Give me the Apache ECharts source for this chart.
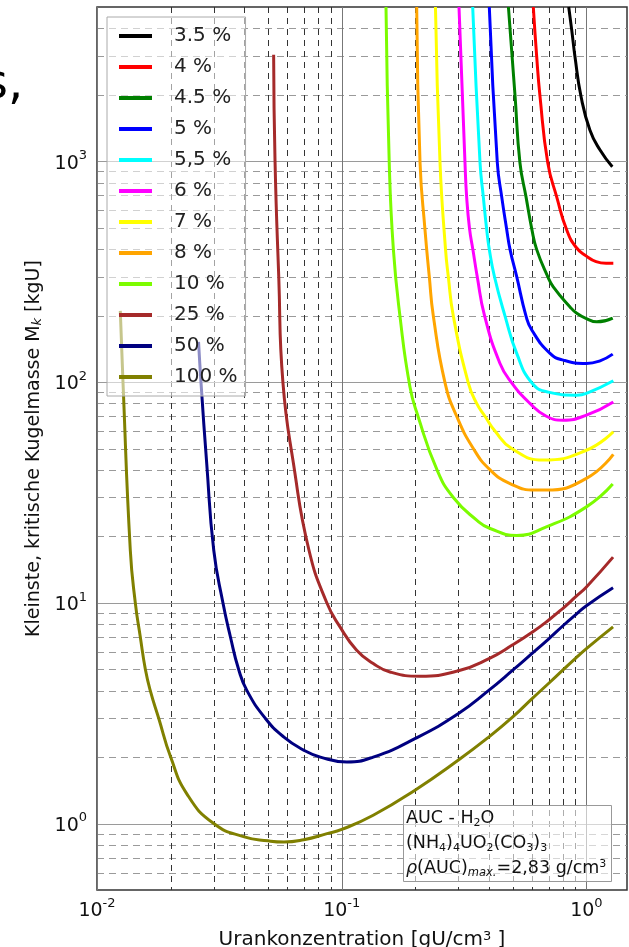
<!DOCTYPE html>
<html><head><meta charset="utf-8">
<script src="https://cdn.jsdelivr.net/npm/echarts@6/dist/echarts.min.js"></script>
<style>html,body{margin:0;padding:0;background:#fff}#c{width:629px;height:947px}</style>
</head><body><div id="c"></div>
<script>
// ---- data (x: gU/cm3, y: kgU) ----
const seriesNames = ['3.5 %','4 %','4.5 %','5 %','5,5 %','6 %','7 %','8 %','10 %','25 %','50 %','100 %'];
const seriesColors = ['#000000','#ff0000','#008000','#0000ff','#00ffff','#ff00ff','#ffff00','#ffa500','#7cfc00','#a52a2a','#000080','#808000'];

const e3_5 = [[0.8466,5000],[0.871,3930],[0.898,2977],[0.951,1960],[1.034,1384],[1.137,1124],[1.276,944]];
const e4   = [[0.6067,5000],[0.626,3000],[0.646,1975],[0.695,985],[0.756,690],[0.831,488],[0.907,408],[1.0,372],[1.095,351],[1.203,345],[1.288,345]];
const e4_5 = [[0.480,5000],[0.511,1975],[0.535,985],[0.5665,690],[0.598,494],[0.626,399],[0.695,300],[0.732,270],[0.857,219],[0.913,205],[1.0,194],[1.102,187.5],[1.281,195]];
const e5   = [[0.401,5000],[0.4324,985],[0.4507,690],[0.472,494],[0.4873,399],[0.519,300],[0.5665,199],[0.598,172],[0.71,134.8],[0.805,125.7],[1.0,121.4],[1.137,124.8],[1.281,133.8]];
const e5_5 = [[0.343,5000],[0.3675,985],[0.379,690],[0.391,494],[0.401,399],[0.421,300],[0.465,199],[0.519,134.8],[0.598,99.2],[0.699,90],[0.913,87.2],[1.0,88.8],[1.288,101.3]];
const e6   = [[0.3015,5000],[0.319,985],[0.324,690],[0.333,494],[0.3435,399],[0.358,300],[0.3834,200],[0.4434,121.4],[0.495,99.2],[0.588,80],[0.686,70],[0.805,67.2],[1.0,70.8],[1.288,81.3]];
const e7   = [[0.2416,5000],[0.2522,985],[0.2656,399],[0.2727,300],[0.2858,199],[0.329,99.2],[0.356,80],[0.385,70],[0.423,60],[0.495,50],[0.667,44.3],[1.0,49.1],[1.288,59.5]];
const e8   = [[0.2025,5000],[0.209,985],[0.219,488],[0.228,300],[0.2368,199],[0.2644,99.2],[0.295,70],[0.345,50],[0.404,40],[0.4873,34.7],[0.617,32.4],[0.686,32.4],[1.0,36.6],[1.288,47]];
const e10  = [[0.1517,5000],[0.1564,985],[0.1626,399],[0.173,199],[0.190,95.2],[0.205,70],[0.2452,40],[0.2858,30],[0.356,23.7],[0.404,21.7],[0.519,20.2],[0.686,22.1],[1.0,27.2],[1.281,34.5]];
const e25  = [[0.0527,3040],[0.0534,1000],[0.0553,300],[0.0575,100],[0.0636,42.3],[0.0735,17.3],[0.0869,10],[0.0984,7.78],[0.1151,6.10],[0.1345,5.31],[0.1575,4.86],[0.209,4.65],[0.3,4.92],[0.4,5.59],[0.5,6.45],[0.6,7.35],[0.7,8.34],[0.8,9.42],[0.9,10.6],[1.0,11.8],[1.285,16.1]];
const e50  = [[0.026,152],[0.0266,100],[0.0281,42.3],[0.030,17.3],[0.0327,10],[0.0351,7],[0.0379,5],[0.041,4],[0.0487,3],[0.0579,2.47],[0.0699,2.15],[0.0818,2.0],[0.105,1.90],[0.1345,2.0],[0.2,2.43],[0.3,3.15],[0.4,4.02],[0.5,4.95],[0.6,5.9],[0.7,6.85],[0.8,7.85],[0.9,8.8],[1.0,9.7],[1.285,11.7]];
const e100 = [[0.01245,210],[0.01277,100],[0.01368,17.3],[0.01434,10],[0.01503,7],[0.01576,5],[0.01651,4],[0.01787,3],[0.02,2],[0.02332,1.36],[0.03,1.0],[0.04,0.87],[0.05,0.835],[0.058,0.825],[0.07,0.845],[0.0871,0.9],[0.1,0.94],[0.1345,1.09],[0.2,1.42],[0.3,1.94],[0.4,2.47],[0.5,3.04],[0.6,3.68],[0.7,4.31],[0.8,4.95],[0.9,5.59],[1.0,6.2],[1.285,7.78]];
const curves = [e3_5,e4,e4_5,e5,e5_5,e6,e7,e8,e10,e25,e50,e100];

// grid / tick values
const xMajor = [0.01, 0.1, 1];
const yMajor = [1, 10, 100, 1000];
const xMinor = [0.02,0.03,0.04,0.05,0.06,0.07,0.08,0.09,0.2,0.3,0.4,0.5,0.6,0.7,0.8,0.9];
const yMinor = [0.6,0.7,0.8,0.9,2,3,4,5,6,7,8,9,20,30,40,50,60,70,80,90,200,300,400,500,600,700,800,900,2000,3000,4000];

const FONT = 'DejaVu Sans';
const chart = echarts.init(document.getElementById('c'), null, {renderer:'canvas'});

function powLabel(v){
  const e = Math.log10(v), r = Math.round(e);
  if (Math.abs(e - r) > 1e-6) return '';
  return '{b|10}{e|' + r + '}';
}
const tickRich = {
  b:{fontFamily:FONT,fontSize:19,color:'#111',lineHeight:24,verticalAlign:'bottom'},
  e:{fontFamily:FONT,fontSize:13,color:'#111',lineHeight:13,verticalAlign:'top'}
};

function gridSeries(values, vertical, style){
  return {
    type:'custom', name:'_grid', silent:true, z:1, clip:true,
    data: values.map(v => vertical ? [v, 1] : [0.1, v]),
    renderItem(params, api){
      const cs = params.coordSys;
      if (vertical){
        const x = Math.round(api.coord([api.value(0), 1])[0]) + 0.5;
        return {type:'line', shape:{x1:x,y1:cs.y,x2:x,y2:cs.y+cs.height}, style:Object.assign({fill:null}, style)};
      } else {
        const y = Math.round(api.coord([0.1, api.value(1)])[1]) + 0.5;
        return {type:'line', shape:{x1:cs.x,y1:y,x2:cs.x+cs.width,y2:y}, style:Object.assign({fill:null}, style)};
      }
    }
  };
}

const series = [
  gridSeries(yMinor, false, {stroke:'#9a9a9a', lineWidth:1, lineDash:[7,5]}),
  gridSeries(xMinor, true, {stroke:'#333', lineWidth:1, lineDash:[6,5]}),
  gridSeries(yMajor, false, {stroke:'#9a9a9a', lineWidth:1}),
  gridSeries(xMajor, true, {stroke:'#777', lineWidth:1})
];
curves.forEach((d, i) => {
  series.push({
    type:'line', name:seriesNames[i], data:d, z:3,
    showSymbol:false, symbol:'none', smooth:0.5,
    lineStyle:{color:seriesColors[i], width:3}, itemStyle:{color:seriesColors[i]},
    emphasis:{disabled:true}
  });
});

chart.setOption({
  animation:false,
  backgroundColor:'#fff',
  grid:{left:97, right:2, top:7, bottom:57, show:true, borderColor:'#333', borderWidth:1.5,
        backgroundColor:'transparent', containLabel:false, outerBoundsMode:'none'},
  xAxis:{
    type:'log', logBase:10, min:0.01, max:1.465,
    name:'Urankonzentration [gU/cm{sup|3} ]', nameLocation:'middle', nameGap:40,
    nameTextStyle:{fontFamily:FONT, fontSize:20, color:'#111',
      rich:{sup:{fontFamily:FONT,fontSize:13,color:'#111',verticalAlign:'top',lineHeight:12}}},
    axisLine:{show:false}, axisTick:{show:false}, splitLine:{show:false},
    axisLabel:{formatter:powLabel, rich:tickRich, margin:7, showMinLabel:true, showMaxLabel:true}
  },
  yAxis:{
    type:'log', logBase:10, min:0.5, max:5000,
    name:'Kleinste, kritische Kugelmasse M{sub|k} [kgU]', nameLocation:'middle', nameGap:49,
    nameTextStyle:{fontFamily:FONT, fontSize:19, color:'#111',
      rich:{sub:{fontFamily:FONT,fontSize:13,fontStyle:'italic',color:'#111',verticalAlign:'bottom',lineHeight:10}}},
    axisLine:{show:false}, axisTick:{show:false}, splitLine:{show:false},
    axisLabel:{formatter:powLabel, rich:tickRich, margin:10}
  },
  legend:{
    data:seriesNames, orient:'vertical', left:107, top:17,
    padding:[9,8,9,12], itemGap:11, itemWidth:33, itemHeight:4, icon:'rect',
    backgroundColor:'rgba(255,255,255,0.55)', borderColor:'#aaa', borderWidth:1, borderRadius:0,
    selectedMode:false,
    textStyle:{fontFamily:FONT, fontSize:20, color:'#222', padding:[0,0,0,17]}
  },
  graphic:[
    {type:'text', left:-17, top:62, z:20, style:{text:'s,', font:'48px "DejaVu Sans"', fill:'#000'}},
    {type:'rect', left:403, top:805, z:20, shape:{width:208, height:76},
      style:{fill:'rgba(255,255,255,0.6)', stroke:'#999', lineWidth:1}},
    {type:'text', left:406, top:806, z:21, style:{
      text:'AUC - H{sub|2}O\n(NH{sub|4}){sub|4}UO{sub|2}(CO{sub|3}){sub|3}\n{it|ρ}(AUC){subit|max.}=2,83 g/cm{sup|3}',
      fontFamily:FONT, fontSize:17.5, fill:'#111', lineHeight:25,
      rich:{
        sub:{fontFamily:FONT,fontSize:11,fill:'#111',verticalAlign:'bottom',lineHeight:11,padding:[0,0,2,0]},
        subit:{fontFamily:FONT,fontSize:11.5,fontStyle:'italic',fill:'#111',verticalAlign:'bottom',lineHeight:11,padding:[0,0,2,0]},
        sup:{fontFamily:FONT,fontSize:11,fill:'#111',verticalAlign:'top',lineHeight:11,padding:[3,0,0,0]},
        it:{fontFamily:FONT,fontSize:17.5,fontStyle:'italic',fill:'#111'}
      }
    }}
  ],
  series:series
});
</script></body></html>
